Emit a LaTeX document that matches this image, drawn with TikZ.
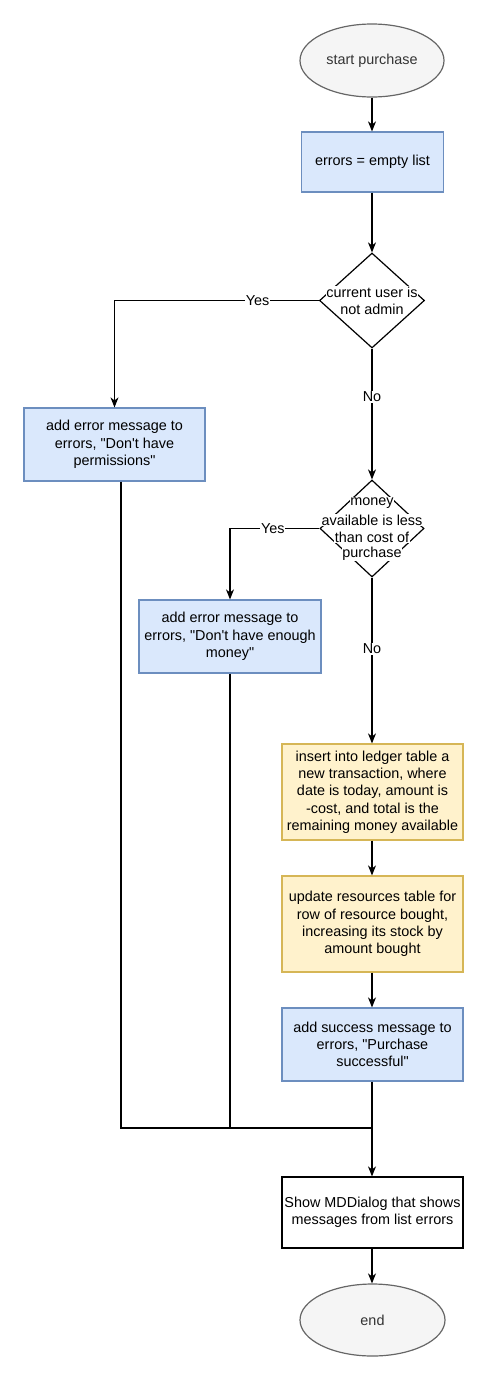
\documentclass[tikz,border=0pt]{standalone}
\usepackage{fontspec}
\setmainfont{Liberation Sans}
\usetikzlibrary{shapes.geometric,arrows.meta}
\definecolor{bfill}{HTML}{DAE8FC}
\definecolor{bstroke}{HTML}{6C8EBF}
\definecolor{yfill}{HTML}{FFF2CC}
\definecolor{ystroke}{HTML}{D6B656}
\definecolor{gfill}{HTML}{F5F5F5}
\definecolor{gstroke}{HTML}{666666}
\definecolor{gtext}{HTML}{333333}
\newcommand{\qd}{\textquotedbl}
\newcommand{\qs}{\textquotesingle}
\begin{document}
\begin{tikzpicture}[x=1pt,y=-1pt,
  every node/.style={font=\fontsize{14.4}{17.3}\selectfont, inner sep=0pt, align=center},
  box/.style={rectangle, line width=1.2pt, minimum width=181pt},
  bluebox/.style={box, draw=bstroke, fill=bfill},
  yelbox/.style={box, draw=ystroke, fill=yfill},
  plainbox/.style={box, draw=black, fill=white},
  term/.style={ellipse, draw=gstroke, fill=gfill, text=gtext, line width=1.2pt},
  dec/.style={diamond, draw=black, fill=white, line width=1.2pt},
  dtext/.style={fill=white, inner sep=0.6pt},
  conn/.style={draw=black, line width=1.2pt},
  arr/.style={conn, -{Stealth[length=10pt,width=8pt,inset=3pt]}},
  lbl/.style={fill=white, inner sep=0.8pt}
]
\useasboundingbox (0,0) rectangle (489,1382);

\node[term, minimum width=144pt, minimum height=73pt] (start) at (372,60.5) {start purchase};
\node[bluebox, minimum width=142pt, minimum height=60pt] (e0) at (372.5,162) {errors = empty list};
\node[dec, minimum width=105pt, minimum height=95pt] (d1) at (372,300.5) {};
\node[dtext] (d1a) at (372,292) {current user is};
\node[dtext] (d1b) at (372,309) {not admin};
\node[bluebox, minimum height=73pt] (b1) at (114.5,444.5) {add error message to\\errors, \qd Don\qs t have\\permissions\qd};
\node[dec, minimum width=104pt, minimum height=97pt] (d2) at (372,528.5) {};
\node[dtext] (d2a) at (372,503) {money};
\node[dtext] (d2b) at (372,520) {available is less};
\node[dtext] (d2c) at (372,537.5) {than cost of};
\node[dtext] (d2d) at (372,554) {purchase};
\node[bluebox, minimum width=182pt, minimum height=73pt] (b2) at (230,636.5) {add error message to\\errors, \qd Don\qs t have enough\\money\qd};
\node[yelbox, minimum height=96pt] (y1) at (372.5,792) {insert into ledger table a\\new transaction, where\\date is today, amount is\\-cost, and total is the\\remaining money available};
\node[yelbox, minimum height=96pt] (y2) at (372.5,924) {update resources table for\\row of resource bought,\\increasing its stock by\\amount bought};
\node[bluebox, minimum height=73pt] (b3) at (372.5,1044.5) {add success message to\\errors, \qd Purchase\\successful\qd};
\node[plainbox, minimum height=71pt] (show) at (372.5,1212.5) {Show MDDialog that shows\\messages from list errors};
\node[term, minimum width=145pt, minimum height=72pt] (end) at (372.5,1320) {end};

\coordinate (m1) at (121,1128);
\coordinate (mj) at (372,1128);

\draw[arr] (start.south) -- (start.south |- e0.north);
\draw[arr] (e0.south -| d1.north) -- (d1.north);
\draw[arr] (d1.west) -| (b1.north) node[lbl, pos=0.15] (yes1) {Yes};
\draw[arr] (d1.south) -- (d2.north) node[lbl, pos=0.37] (no1) {No};
\draw[arr] (d2.west) -| (b2.north) node[lbl, pos=0.26] (yes2) {Yes};
\draw[arr] (d2.south) -- (d2.south |- y1.north) node[lbl, pos=0.43] (no2) {No};
\draw[arr] (y1.south -| d1.south) -- (y2.north -| d1.south);
\draw[arr] (y2.south -| d1.south) -- (b3.north -| d1.south);
\draw[conn] (b1.south -| m1) -- (m1) -- (mj);
\draw[conn] (b2.south) -- (b2.south |- mj);
\draw[arr] (b3.south -| d1.south) -- (show.north -| d1.south);
\draw[arr] (show.south -| d1.south) -- (end.north -| d1.south);
\end{tikzpicture}
\end{document}
